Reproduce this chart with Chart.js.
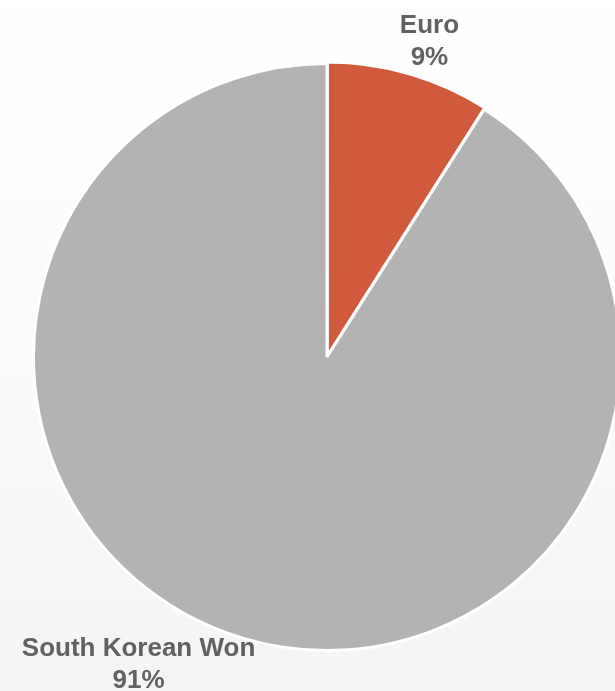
<!DOCTYPE html>
<html>
<head>
<meta charset="utf-8">
<script src="https://cdn.jsdelivr.net/npm/chart.js@4.4.1/dist/chart.umd.min.js"></script>
<style>
  html, body { margin: 0; padding: 0; overflow: hidden; }
  body { width: 615px; height: 691px; background: linear-gradient(#ffffff 0%, #fbfbfb 50%, #f4f4f4 100%); }
  #wrap { position: absolute; left: 0; top: 0; width: 624px; height: 691px; }
</style>
</head>
<body>
<div id="wrap"><canvas id="myChart" width="624" height="691"></canvas></div>
<script>
const categories = ["Euro", "South Korean Won"];
const shares = [9, 91];
const sliceColors = ['#D15A3D', '#B3B3B3'];
const sliceOffsets = [4, 0];

// label nudges (px) relative to a point just outside each slice's mid angle
const labelNudge = [[8, 10], [-94, -17]];

const outsideLabels = {
  id: 'outsideLabels',
  afterDatasetsDraw(chart) {
    const ctx = chart.ctx;
    const meta = chart.getDatasetMeta(0);
    const total = shares.reduce((a, b) => a + b, 0);
    ctx.save();
    ctx.font = 'bold 26px "Liberation Sans", Arial, sans-serif';
    ctx.fillStyle = '#616161';
    ctx.textAlign = 'center';
    ctx.textBaseline = 'middle';
    meta.data.forEach(function (arc, i) {
      const mid = (arc.startAngle + arc.endAngle) / 2;
      const r = arc.outerRadius + 45;
      const x = arc.x + Math.cos(mid) * r + labelNudge[i][0];
      const y = arc.y + Math.sin(mid) * r + labelNudge[i][1];
      const pct = Math.round(shares[i] / total * 100) + '%';
      ctx.fillText(categories[i], x, y - 16);
      ctx.fillText(pct, x, y + 16);
    });
    ctx.restore();
  }
};

const ctx = document.getElementById('myChart').getContext('2d');

const chart = new Chart(ctx, {
  type: 'pie',
  data: {
    labels: categories,
    datasets: [{
      data: shares,
      backgroundColor: sliceColors,
      borderColor: '#ffffff',
      borderWidth: 3,
      offset: sliceOffsets,
    }]
  },
  options: {
    responsive: false,
    animation: false,
    devicePixelRatio: 1,
    layout: {
      padding: { left: 30, right: 0, top: 60, bottom: 37 },
    },
    plugins: {
      legend: { display: false },
      tooltip: { enabled: false },
    },
  },
  plugins: [outsideLabels],
});
</script>
</body>
</html>
